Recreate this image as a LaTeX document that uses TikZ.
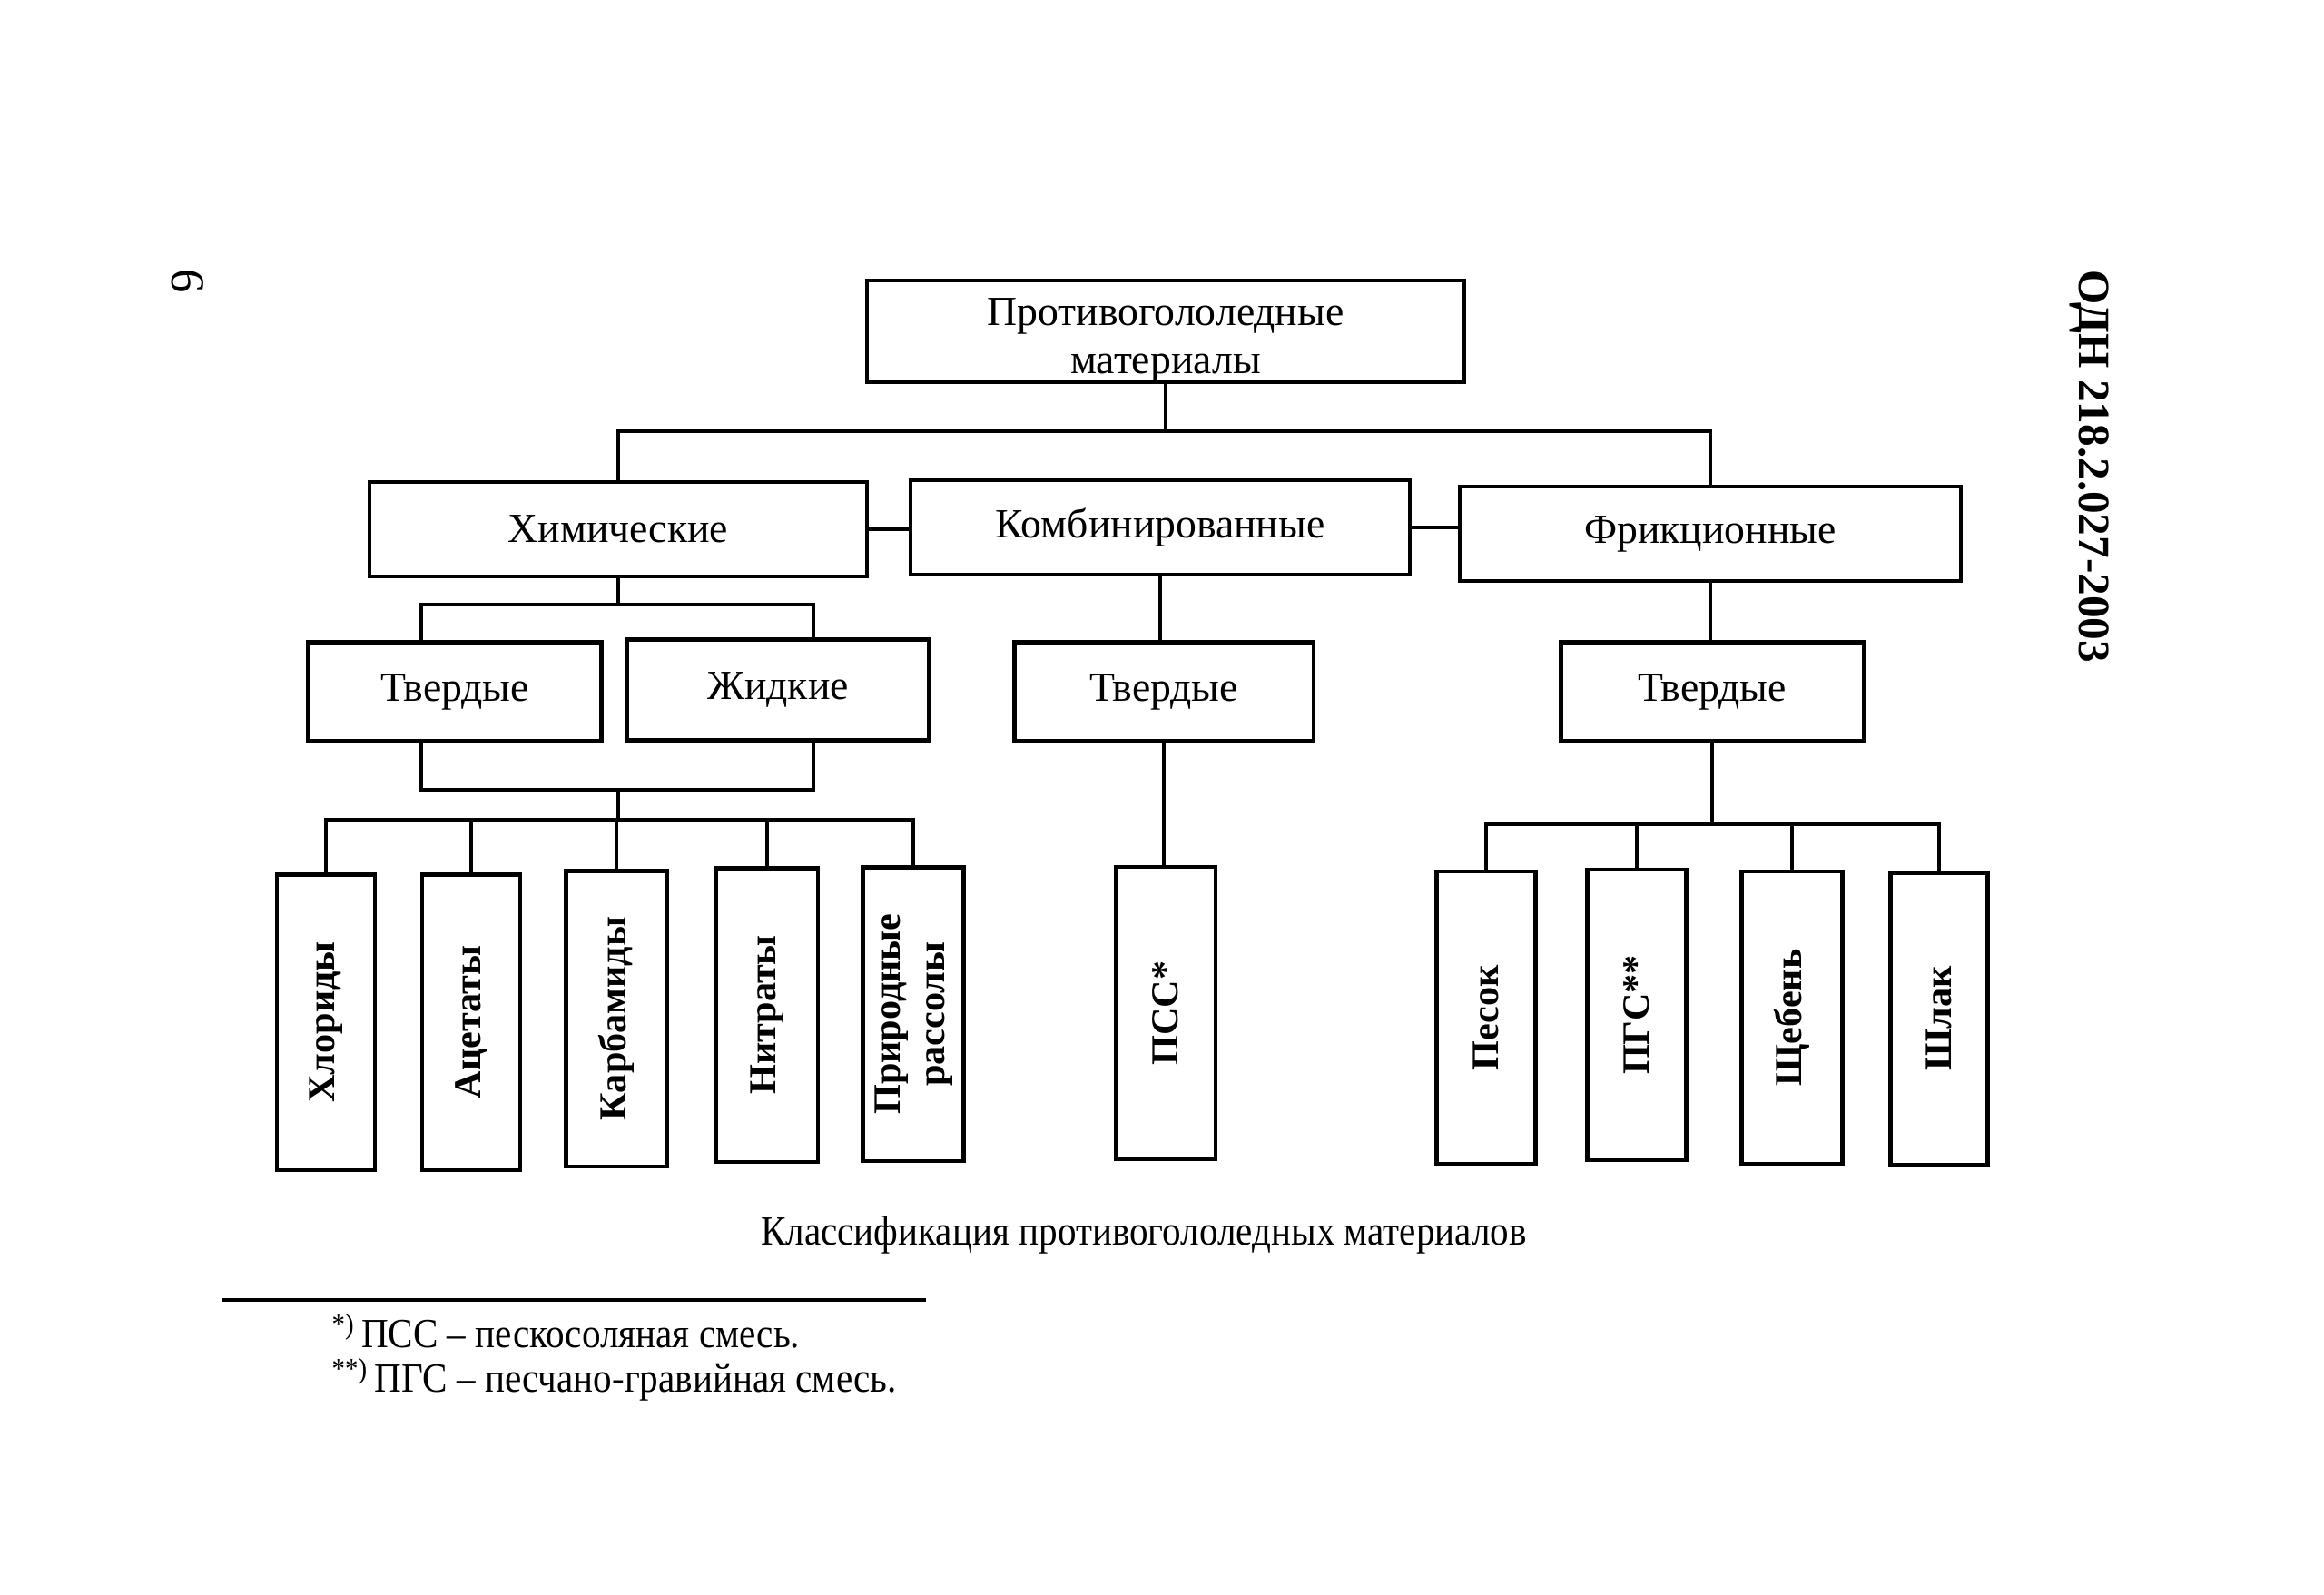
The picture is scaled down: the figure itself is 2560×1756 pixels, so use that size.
\documentclass[tikz,border=0pt]{standalone}
\usepackage{fontspec}
\setmainfont{Liberation Serif}
\begin{document}
\begin{tikzpicture}[x=0.01cm,y=-0.01cm,
  box/.style={draw, line width=1.2pt, inner sep=0pt, align=center, font=\fontsize{13}{15.2}\selectfont},
  leaf/.style={draw, line width=1.2pt, inner sep=0pt, align=center, font=\bfseries\fontsize{12}{14}\selectfont},
  conn/.style={line width=1pt},
  plain/.style={font=\fontsize{13}{15}\selectfont}]
\useasboundingbox (0,0) rectangle (2560,1756);
% level 0
\node[box, minimum width=6.58cm, minimum height=1.10cm] (top) at (1284,365) {\rule{0pt}{14pt}Противогололедные\\материалы};
% level 1
\node[box, minimum width=5.48cm, minimum height=1.04cm] (chem) at (681,583) {Химические};
\node[box, minimum width=5.49cm, minimum height=1.04cm] (komb) at (1278,581) {Комбинированные};
\node[box, minimum width=5.52cm, minimum height=1.04cm] (frik) at (1884,588) {Фрикционные};
% level 2
\node[box, minimum width=3.23cm, minimum height=1.09cm] (tv1) at (501,762) {Твердые};
\node[box, minimum width=3.33cm, minimum height=1.11cm] (zhid) at (857,760) {Жидкие};
\node[box, minimum width=3.29cm, minimum height=1.09cm] (tv2) at (1282,762) {Твердые};
\node[box, minimum width=3.33cm, minimum height=1.09cm] (tv3) at (1886,762) {Твердые};
% leaves
\node[leaf, minimum width=1.08cm, minimum height=3.25cm] (chl) at (359,1126) {\rotatebox{90}{Хлориды}};
\node[leaf, minimum width=1.08cm, minimum height=3.25cm] (ace) at (519,1126) {\rotatebox{90}{Ацетаты}};
\node[leaf, minimum width=1.11cm, minimum height=3.25cm] (karb) at (679,1122) {\rotatebox{90}{Карбамиды}};
\node[leaf, minimum width=1.12cm, minimum height=3.23cm] (nitr) at (845,1118) {\rotatebox{90}{Нитраты}};
\node[leaf, minimum width=1.11cm, minimum height=3.23cm] (prir) at (1006,1117) {\rotatebox{90}{\begin{tabular}{@{}c@{}}Природные\\[0pt]рассолы\end{tabular}}};
\node[leaf, minimum width=1.10cm, minimum height=3.22cm] (pss) at (1284,1116) {\rotatebox{90}{ПСС*}};
\node[leaf, minimum width=1.09cm, minimum height=3.22cm] (pes) at (1637,1121) {\rotatebox{90}{Песок}};
\node[leaf, minimum width=1.09cm, minimum height=3.20cm] (pgs) at (1803,1118) {\rotatebox{90}{ПГС**}};
\node[leaf, minimum width=1.11cm, minimum height=3.22cm] (sheb) at (1974,1121) {\rotatebox{90}{Щебень}};
\node[leaf, minimum width=1.07cm, minimum height=3.21cm] (shl) at (2136,1122) {\rotatebox{90}{Шлак}};
% helper coordinates
\coordinate (barTop) at (0,475);
\coordinate (barChem) at (0,666);
\coordinate (t1x) at (464,0);
\coordinate (t2x) at (896,0);
\coordinate (uBot) at (0,870);
\coordinate (barA) at (0,903);
\coordinate (barB) at (0,908);
% connectors level 0-1
\draw[conn] (top.south) -- (top.south |- barTop);
\draw[conn] (chem.north) |- (frik.north |- barTop) -- (frik.north);
\draw[conn] (chem.east) -- (chem.east -| komb.west);
\draw[conn] (komb.east) -- (komb.east -| frik.west);
% chem children
\draw[conn] (chem.south) -- (chem.south |- barChem);
\draw[conn] (tv1.north -| t1x) |- (barChem -| t2x) -- (zhid.north -| t2x);
\draw[conn] (tv1.south -| t1x) |- (uBot -| t2x) -- (zhid.south -| t2x);
\draw[conn] (uBot -| chem.south) -- (barA -| chem.south);
\draw[conn] (chl.north) |- (prir.north |- barA) -- (prir.north);
\foreach \n in {ace,karb,nitr} \draw[conn] (\n.north) -- (\n.north |- barA);
% komb children
\draw[conn] (komb.south) -- (komb.south |- tv2.north);
\draw[conn] (tv2.south) -- (tv2.south |- pss.north);
% frik children
\draw[conn] (frik.south) -- (frik.south |- tv3.north);
\draw[conn] (tv3.south) -- (tv3.south |- barB);
\draw[conn] (pes.north) |- (shl.north |- barB) -- (shl.north);
\foreach \n in {pgs,sheb} \draw[conn] (\n.north) -- (\n.north |- barB);
% caption and footnotes
\node[plain] (cap) at (1260,1360) {\scalebox{0.9}[1]{Классификация противогололедных материалов}};
\coordinate (r1) at (245,1432);
\coordinate (r2) at (1020,1432);
\draw[line width=1pt] (r1) -- (r2);
\node[anchor=west, inner sep=0pt, align=left, font=\fontsize{13}{13.9}\selectfont] (fn) at (365,1495)
  {\scalebox{0.9}[1]{\textsuperscript{*)}\,ПСС – пескосоляная смесь.}\\
   \scalebox{0.9}[1]{\textsuperscript{**)}\,ПГС – песчано-гравийная смесь.}};
% page furniture
\node[rotate=-90, font=\bfseries\fontsize{14}{14}\selectfont] (hdr) at (2302,514) {ОДН 218.2.027-2003};
\node[rotate=-90, font=\fontsize{15}{15}\selectfont] (pg) at (207,310) {6};
\end{tikzpicture}
\end{document}
